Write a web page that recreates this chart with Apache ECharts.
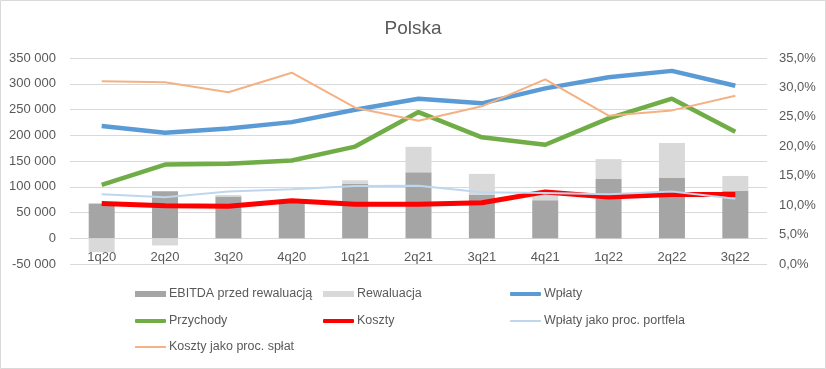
<!DOCTYPE html>
<html><head><meta charset="utf-8">
<script src="https://cdn.jsdelivr.net/npm/echarts@6/dist/echarts.min.js"></script>
<style>html,body{margin:0;padding:0;background:#fff}#c{width:826px;height:369px}</style>
</head><body><div id="c"></div>
<script>
const categories = ['1q20','2q20','3q20','4q20','1q21','2q21','3q21','4q21','1q22','2q22','3q22'];
const ebitda = [67400, 91400, 81000, 72000, 105600, 128000, 84000, 74000, 115000, 117000, 92000];
const rewaluacja = [-27000, -14000, 3000, 0, 7000, 49500, 41000, 15000, 38600, 68000, 29000];
const wplaty = [218000, 205000, 213000, 225500, 249500, 271000, 262000, 291000, 312500, 325000, 296000];
const przychody = [103700, 143000, 144500, 151000, 178000, 245000, 196000, 181500, 232700, 271000, 206800];
const koszty = [67400, 63000, 62000, 72600, 66000, 66000, 69000, 90000, 80000, 85000, 85000];
const wplatyProc = [11.84, 11.33, 12.3, 12.7, 13.25, 13.3, 12.2, 12.06, 11.84, 12.3, 11.1];
const kosztyProc = [31.04, 30.87, 29.17, 32.5, 26.56, 24.35, 26.79, 31.38, 25.2, 26.1, 28.6];
const leftTicks = {min: -50000, max: 350000, interval: 50000};
const rightTicks = {min: 0, max: 35, interval: 5};

const txt = '#595959';
const font = 'Liberation Sans';
const chart = echarts.init(document.getElementById('c'));

const seriesDefs = [
  {name:'EBITDA przed rewaluacją', kind:'bar', color:'#a5a5a5', data:ebitda, axis:0},
  {name:'Rewaluacja', kind:'bar', color:'#d9d9d9', data:rewaluacja, axis:0},
  {name:'Wpłaty', kind:'line', color:'#5b9bd5', width:4.5, data:wplaty, axis:0},
  {name:'Przychody', kind:'line', color:'#70ad47', width:4.5, data:przychody, axis:0},
  {name:'Koszty', kind:'line', color:'#ff0000', width:5, data:koszty, axis:0},
  {name:'Wpłaty jako proc. portfela', kind:'line', color:'#bdd7ee', width:2, data:wplatyProc, axis:1},
  {name:'Koszty jako proc. spłat', kind:'line', color:'#f4b183', width:2, data:kosztyProc, axis:1}
];
// legend layout: 3 columns, rows of 26px
const colX = [135, 323, 510];
const rowY = [294, 321, 347];
const legends = seriesDefs.map((s, i) => ({
  data:[{name:s.name, icon:s.kind === 'bar' ? 'rect' : 'roundRect'}],
  left:colX[i % 3], top:rowY[Math.floor(i / 3)] - 8, padding:0,
  itemWidth:31, itemHeight: s.kind === 'bar' ? 6 : (s.width > 3 ? 4 : 2), itemGap:0, selectedMode:false,
  textStyle:{color:txt, fontFamily:font, fontSize:12.5, lineHeight:16, padding:[0,0,0,-2]}
}));

chart.setOption({
  animation:false,
  graphic:[{type:'rect', shape:{x:0.5,y:0.5,width:825,height:368}, style:{fill:'none', stroke:'#d9d9d9', lineWidth:1}, silent:true}],
  title:{text:'Polska', left:'center', top:14, textStyle:{color:txt, fontFamily:font, fontSize:19, fontWeight:'normal'}},
  legend: legends,
  grid:{left:70, right:59, top:58, bottom:105},
  xAxis:{type:'category', data:categories, axisTick:{show:false},
    axisLine:{show:false, onZero:false},
    axisLabel:{color:txt, fontFamily:font, fontSize:13, margin:-13}},
  yAxis:[
    {type:'value', min:leftTicks.min, max:leftTicks.max, interval:leftTicks.interval,
     axisLabel:{color:txt, fontFamily:font, fontSize:13, margin:14,
       formatter:v=>{const s=Math.abs(v).toString().replace(/\B(?=(\d{3})+(?!\d))/g,' ');return (v<0?'-':'')+s;}},
     splitLine:{lineStyle:{color:'#d9d9d9'}}, axisLine:{show:false}, axisTick:{show:false}},
    {type:'value', min:rightTicks.min, max:rightTicks.max, interval:rightTicks.interval,
     axisLabel:{color:txt, fontFamily:font, fontSize:13, margin:12, formatter:v=>v.toFixed(1).replace('.',',')+'%'},
     splitLine:{show:false}, axisLine:{show:false}, axisTick:{show:false}}
  ],
  series: seriesDefs.map(s => s.kind === 'bar'
    ? {name:s.name, type:'bar', stack:'a', data:s.data, barWidth:'41%', itemStyle:{color:s.color}}
    : {name:s.name, type:'line', yAxisIndex:s.axis, data:s.data, symbol:'none', lineStyle:{color:s.color, width:s.width}, itemStyle:{color:s.color}})
});
</script></body></html>
